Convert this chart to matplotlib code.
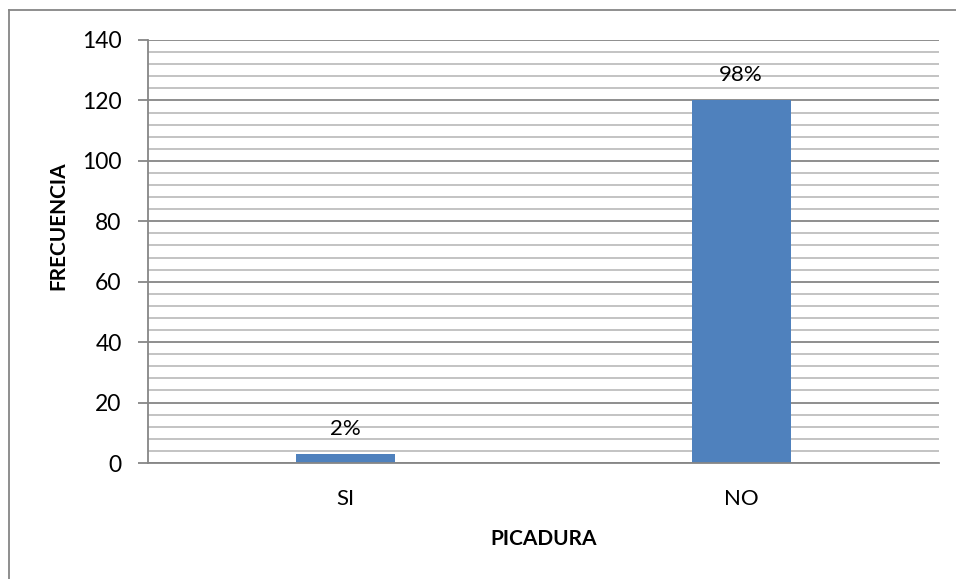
import matplotlib
matplotlib.use("Agg")
import matplotlib.pyplot as plt
from matplotlib.ticker import MultipleLocator
from matplotlib.lines import Line2D

categories = ["SI", "NO"]
frecuencia = [3, 120]
porcentajes = ["2%", "98%"]
y_max = 140

plt.rcParams["font.family"] = ["Lato", "DejaVu Sans"]

W, H = 956, 579
fig = plt.figure(figsize=(W / 100, H / 100), dpi=100)
fig.patch.set_facecolor("white")

# plot area in pixel units
left, right, top, bottom = 148, 939, 40, 463
ax = fig.add_axes([left / W, (H - bottom) / H, (right - left) / W, (bottom - top) / H])

x = list(range(len(categories)))
ax.bar(x, frecuencia, width=0.25, color="#4F81BD", zorder=3)
ax.set_xlim(-0.5, len(categories) - 0.5)
ax.set_ylim(0, y_max)

ax.yaxis.set_major_locator(MultipleLocator(20))
ax.yaxis.set_minor_locator(MultipleLocator(4))
ax.grid(which="major", axis="y", color="#868686", linewidth=1.3, zorder=1)
ax.grid(which="minor", axis="y", color="#BEBEBE", linewidth=1.3, zorder=1)

for s in ("top", "right"):
    ax.spines[s].set_visible(False)
for s in ("left", "bottom"):
    ax.spines[s].set_color("#868686")
    ax.spines[s].set_linewidth(1.3)
    ax.spines[s].set_zorder(4)

ax.tick_params(axis="y", which="major", direction="out", length=7, width=1.3,
               color="#868686", labelsize=16.5, pad=12)
ax.tick_params(axis="y", which="minor", length=0)
ax.tick_params(axis="x", length=0, labelsize=16, pad=19)
ax.set_xticks(x)
ax.set_xticklabels(categories)

for xi, v, p in zip(x, frecuencia, porcentajes):
    ax.annotate(p, (xi, v), xytext=(0, 11), textcoords="offset points",
                ha="center", va="bottom", fontsize=16, color="black")

ax.set_ylabel("FRECUENCIA", fontsize=15, fontweight="bold")
ax.yaxis.set_label_coords(-0.101, 0.56)
ax.set_xlabel("PICADURA", fontsize=15, fontweight="bold", labelpad=14)

# chart-area border (left and top edges)
fig.add_artist(Line2D([8.5 / W, 8.5 / W], [0, 1 - 9.5 / H], transform=fig.transFigure,
                      color="#868686", linewidth=1.3))
fig.add_artist(Line2D([8.5 / W, 1], [1 - 9.5 / H, 1 - 9.5 / H], transform=fig.transFigure,
                      color="#868686", linewidth=1.3))

fig.savefig("out.png", dpi=100, facecolor="white")
